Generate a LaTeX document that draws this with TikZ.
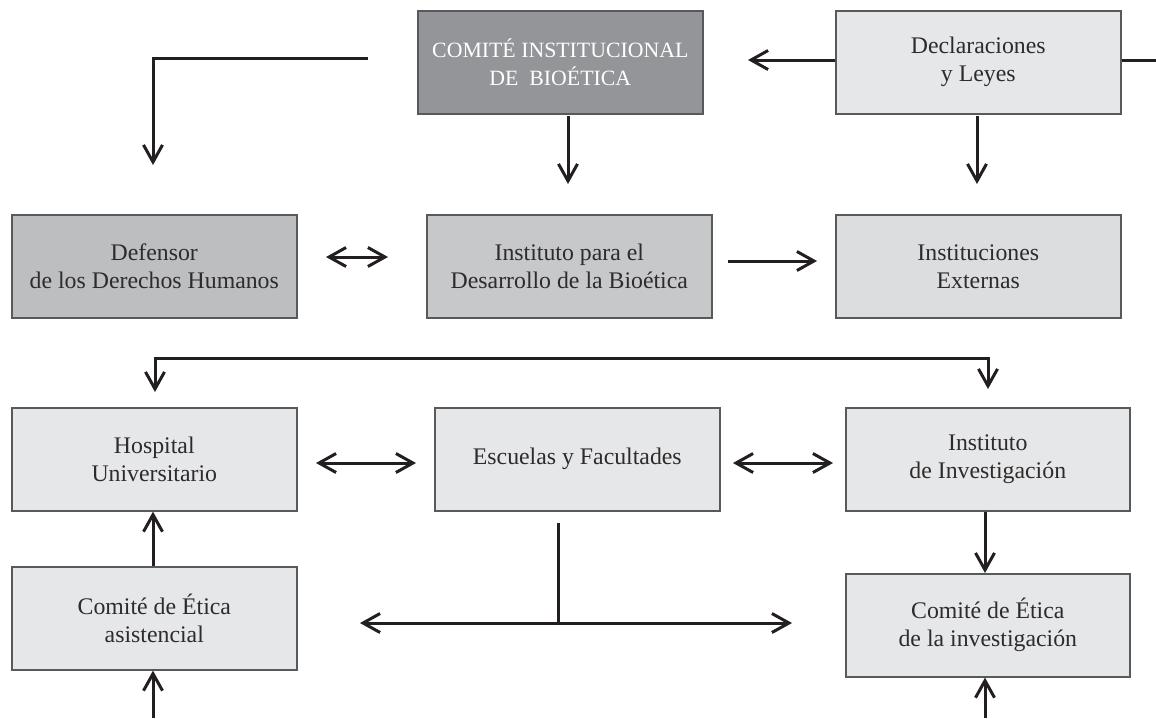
\documentclass[tikz,border=0pt]{standalone}
\usepackage{fontspec}
\setmainfont{Liberation Serif}
\usetikzlibrary{arrows.meta}
\definecolor{ink}{HTML}{231F20}
\definecolor{txt}{HTML}{2E2B2C}
\definecolor{boxline}{HTML}{58595B}
\definecolor{cDark}{HTML}{939598}
\definecolor{cMid}{HTML}{BCBEC0}
\definecolor{cMidL}{HTML}{C7C8CA}
\definecolor{cLightA}{HTML}{DCDDDE}
\definecolor{cLight}{HTML}{E6E7E8}
\begin{document}
\begin{tikzpicture}[x=0.5pt,y=-0.5pt,
  box/.style={draw=boxline, line width=0.8pt, inner sep=0pt, anchor=north west,
    minimum width=142.5pt, minimum height=51.5pt, align=center, text=txt,
    font=\fontsize{11.9}{14}\selectfont},
  lbox/.style={box, fill=cLight},
  conn/.style={line width=1.5pt, draw=ink},
  arr/.style={conn, -{Straight Barb[length=8.5pt,width=9.5pt]}},
  darr/.style={conn, {Straight Barb[length=8.5pt,width=9.5pt]}-{Straight Barb[length=8.5pt,width=9.5pt]}}]
\useasboundingbox (0,0) rectangle (1156,718);
% boxes
\node[box, fill=cDark, text=white, font=\fontsize{10.9}{14}\selectfont] (cib) at (417,10) {COMITÉ INSTITUCIONAL\\DE\ \ BIOÉTICA};
\node[lbox] (decl) at (835,10) {Declaraciones\\y Leyes};
\node[box, fill=cMid] (def) at (11,214) {Defensor\\de los Derechos Humanos};
\node[box, fill=cMidL] (idb) at (426,214) {Instituto para el\\Desarrollo de la Bioética};
\node[box, fill=cLightA] (iext) at (835,214) {Instituciones\\Externas};
\node[lbox] (hosp) at (11,407) {Hospital\\Universitario};
\node[lbox] (esc) at (434,407) {Escuelas y Facultades};
\node[lbox, minimum width=142pt] (iinv) at (845,407) {Instituto\\de Investigación};
\node[lbox] (cea) at (11,566) {Comité de Ética\\asistencial};
\node[lbox, minimum width=142pt] (cei) at (845,573) {Comité de Ética\\de la investigación};
% free ends
\coordinate (tlS) at (368,58);
\coordinate (tlC) at (153,58);
\coordinate (tlE) at (153,165);
\coordinate (c1s) at (568,116);
\coordinate (c1e) at (568,184);
\coordinate (d1e) at (748,60);
\coordinate (d2e) at (1156,60);
\coordinate (d3s) at (977,116);
\coordinate (d3e) at (977,184);
\coordinate (m1s) at (326,257);
\coordinate (m1e) at (388,257);
\coordinate (m2s) at (728,261);
\coordinate (m2e) at (817,261);
\coordinate (hL) at (155,392);
\coordinate (hLc) at (155,358);
\coordinate (hRc) at (988,358);
\coordinate (hR) at (988,389);
\coordinate (e1s) at (316,463);
\coordinate (e1e) at (416,463);
\coordinate (e2s) at (733,463);
\coordinate (e2e) at (833,463);
\coordinate (b1) at (153,718);
\coordinate (b2) at (985,718);
\coordinate (tTop) at (558,523);
\coordinate (tMid) at (558,623);
\coordinate (tL) at (360,623);
\coordinate (tR) at (792,623);
% connectors
\draw[arr] (tlS) -- (tlC) -- (tlE);
\draw[arr] (c1s) -- (c1e);
\draw[arr] (decl.west |- d1e) -- (d1e);
\draw[conn] (decl.east |- d2e) -- (d2e);
\draw[arr] (d3s) -- (d3e);
\draw[darr] (m1s) -- (m1e);
\draw[arr] (m2s) -- (m2e);
\draw[darr] (hL) -- (hLc) -- (hRc) -- (hR);
\draw[darr] (e1s) -- (e1e);
\draw[darr] (e2s) -- (e2e);
\draw[arr] (cea.north -| b1) -- (hosp.south -| b1);
\draw[arr] (b1) -- (cea.south -| b1);
\draw[arr] (iinv.south -| b2) -- (cei.north -| b2);
\draw[arr] (b2) -- (cei.south -| b2);
\draw[conn] (tTop) -- (tMid);
\draw[darr] (tL) -- (tR);
\end{tikzpicture}
\end{document}
